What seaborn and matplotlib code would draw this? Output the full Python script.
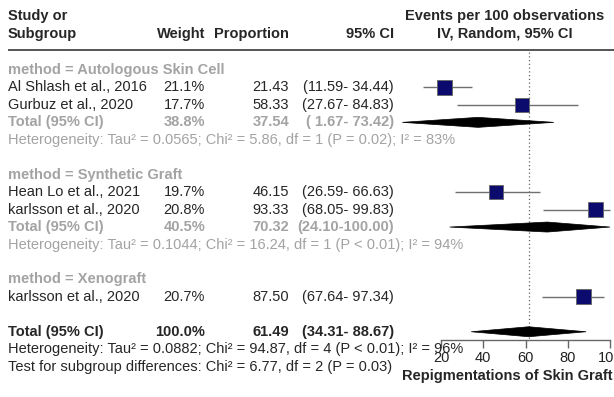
import numpy as np
import pandas as pd
import matplotlib
matplotlib.use("Agg")
import matplotlib.pyplot as plt
import seaborn as sns
from matplotlib.patches import Polygon

# ---- data ----
studies = ["Al Shlash et al., 2016", "Gurbuz et al., 2020", "Hean Lo et al., 2021",
           "karlsson et al., 2020", "karlsson et al., 2020"]
study_group = ["Autologous Skin Cell", "Autologous Skin Cell", "Synthetic Graft",
               "Synthetic Graft", "Xenograft"]
weights = [21.1, 17.7, 19.7, 20.8, 20.7]
props = [21.43, 58.33, 46.15, 93.33, 87.50]
ci_lo = [11.59, 27.67, 26.59, 68.05, 67.64]
ci_hi = [34.44, 84.83, 66.63, 99.83, 97.34]

groups = ["Autologous Skin Cell", "Synthetic Graft", "Xenograft"]
sub_weight = [38.8, 40.5]
sub_est = [37.54, 70.32]
sub_lo = [1.67, 24.10]
sub_hi = [73.42, 100.00]
sub_tau2 = [0.0565, 0.1044]
sub_chi2 = [5.86, 16.24]
sub_df = [1, 1]
sub_p = ["= 0.02", "< 0.01"]
sub_i2 = [83, 94]

total_weight = 100.0
total_est = 61.49
total_lo = 34.31
total_hi = 88.67
total_tau2 = 0.0882
total_chi2 = 94.87
total_df = 4
total_p = "< 0.01"
total_i2 = 96
test_chi2 = 6.77
test_df = 2
test_p = "= 0.03"

xticks = [20, 40, 60, 80, 100]

# ---- style ----
sns.set_theme(style="white")
plt.rcParams["font.family"] = ["Liberation Sans", "DejaVu Sans"]
FS = 10.5
GREY = "#a3a3a3"

W, H = 614, 397
fig = plt.figure(figsize=(W / 100, H / 100), dpi=100)
ax = fig.add_axes([0, 0, 1, 1])

# x: data units; 20 -> 441px, 100 -> 610px
ppu = (610 - 441) / 80.0
x0 = 441 - 20 * ppu
ax.set_xlim(-x0 / ppu, (W - x0) / ppu)
# y: row units
y0, dy = 70.0, 17.45
ax.set_ylim((H - y0) / dy, -y0 / dy)

def fx(px):
    return px / W

def row(px):
    return (px - y0) / dy

tr = ax.get_yaxis_transform()

def txt(px, r, s, ha="left", **kw):
    kw.setdefault("fontsize", FS)
    ax.text(fx(px), r, s, ha=ha, va="center", transform=tr, **kw)

def fmt_ci(lo, hi):
    return f"({lo:5.2f}-{hi:6.2f})"

# header
txt(8, row(16), "Study or", fontweight="bold")
txt(8, row(34), "Subgroup", fontweight="bold")
txt(205, row(34), "Weight", ha="right", fontweight="bold")
txt(289, row(34), "Proportion", ha="right", fontweight="bold")
txt(394, row(34), "95% CI", ha="right", fontweight="bold")
txt(505, row(16), "Events per 100 observations", ha="center", fontweight="bold")
txt(505, row(33), "IV, Random, 95% CI", ha="center", fontweight="bold")
ax.plot([fx(8), fx(614)], [row(50), row(50)], color="#555555", lw=1.4,
        transform=tr, solid_capstyle="butt")

# rows layout
study_rows = [1, 2, 7, 8, 13]
group_rows = [0, 6, 12]
total_rows = [3, 9]
het_rows = [4, 10]
overall_row = 15
overall_het_row = 16
test_row = 17

for g, r in zip(groups, group_rows):
    txt(8, r, f"method = {g}", color=GREY, fontweight="bold")

for i, r in enumerate(study_rows):
    txt(8, r, studies[i])
    txt(205, r, f"{weights[i]:.1f}%", ha="right")
    txt(289, r, f"{props[i]:.2f}", ha="right")
    txt(394, r, fmt_ci(ci_lo[i], ci_hi[i]), ha="right")

for i, r in enumerate(total_rows):
    txt(8, r, "Total (95% CI)", color=GREY, fontweight="bold")
    txt(205, r, f"{sub_weight[i]:.1f}%", ha="right", color=GREY, fontweight="bold")
    txt(289, r, f"{sub_est[i]:.2f}", ha="right", color=GREY, fontweight="bold")
    txt(394, r, fmt_ci(sub_lo[i], sub_hi[i]), ha="right", color=GREY, fontweight="bold")
    txt(8, het_rows[i],
        f"Heterogeneity: Tau² = {sub_tau2[i]:.4f}; Chi² = {sub_chi2[i]:.2f}, "
        f"df = {sub_df[i]} (P {sub_p[i]}); I² = {sub_i2[i]}%", color=GREY)

txt(8, overall_row, "Total (95% CI)", fontweight="bold")
txt(205, overall_row, f"{total_weight:.1f}%", ha="right", fontweight="bold")
txt(289, overall_row, f"{total_est:.2f}", ha="right", fontweight="bold")
txt(394, overall_row, fmt_ci(total_lo, total_hi), ha="right", fontweight="bold")
txt(8, overall_het_row,
    f"Heterogeneity: Tau² = {total_tau2:.4f}; Chi² = {total_chi2:.2f}, "
    f"df = {total_df} (P {total_p}); I² = {total_i2}%")
txt(8, test_row,
    f"Test for subgroup differences: Chi² = {test_chi2:.2f}, df = {test_df} (P {test_p})")

# reference line at pooled estimate
axis_row = row(340)
ax.plot([total_est, total_est], [row(52), axis_row], color="#666666", lw=0.9,
        ls=(0, (1, 2)), zorder=1)

# CI whiskers and weight squares
ax.hlines(study_rows, ci_lo, ci_hi, color="#707070", lw=1.0, zorder=2)
df = pd.DataFrame({"est": props, "row": study_rows, "w": weights})
sns.scatterplot(data=df, x="est", y="row", size="w", sizes=(0, 117 * max(weights) / 21.1),
                size_norm=(0, max(weights)), marker="s", color="#0b0b6e",
                edgecolor="#666666", linewidth=0.6, legend=False, ax=ax, zorder=3)

# diamonds
dh = 5.0 / dy
def diamond(est, lo, hi, r):
    ax.add_patch(Polygon([(lo, r), (est, r - dh), (hi, r), (est, r + dh)],
                         closed=True, facecolor="black", edgecolor="black",
                         lw=0.5, zorder=3))

for i, r in enumerate(total_rows):
    diamond(sub_est[i], sub_lo[i], sub_hi[i], r)
diamond(total_est, total_lo, total_hi, overall_row)

# x axis
for s in ["top", "left", "right"]:
    ax.spines[s].set_visible(False)
ax.spines["bottom"].set_position(("data", axis_row))
ax.spines["bottom"].set_bounds(xticks[0], xticks[-1])
ax.spines["bottom"].set_color("#666666")
ax.spines["bottom"].set_linewidth(1.0)
ax.set_xticks(xticks)
ax.set_xticklabels([str(t) for t in xticks])
ax.tick_params(axis="x", direction="out", length=6, width=1.0, color="#666666",
               labelsize=FS, labelcolor="#222222", pad=2, bottom=True)
ax.set_yticks([])
ax.set_xlabel("")
ax.set_ylabel("")
txt(613, row(376), "Repigmentations of Skin Graft", ha="right", fontweight="bold")

fig.savefig("out.png", dpi=100)
